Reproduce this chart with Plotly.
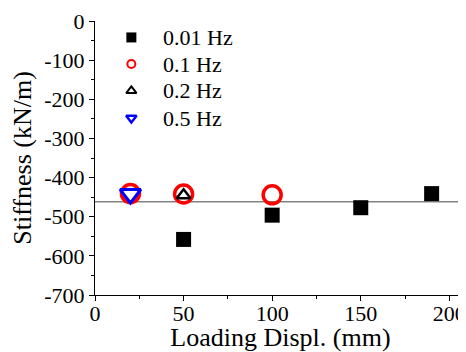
import plotly.graph_objects as go

# data
x_001 = [50, 100, 150, 190]
y_001 = [-558, -496, -477, -441]
x_01 = [20, 50, 100]
y_01 = [-441, -442, -444]
x_02 = [50]
y_02 = [-445]
x_05 = [20]
y_05 = [-442]
ref_level = -462

x_ticks = [0, 50, 100, 150, 200]
y_ticks = [0, -100, -200, -300, -400, -500, -600, -700]
y_ticktext = ["0", "-100", "-200", "-300", "-400", "-500", "-600", "-700"]
legend_labels = ["0.01 Hz", "0.1 Hz", "0.2 Hz", "0.5 Hz"]

FONT = "Liberation Serif"

fig = go.Figure()
fig.add_trace(go.Scatter(x=[0, 210], y=[ref_level, ref_level], mode="lines",
                         line=dict(color="#444444", width=1), showlegend=False, hoverinfo="skip"))
fig.add_trace(go.Scatter(x=x_001, y=y_001, mode="markers", showlegend=False,
                         marker=dict(symbol="square", size=15, color="black")))
fig.add_trace(go.Scatter(x=x_01, y=y_01, mode="markers", showlegend=False,
                         marker=dict(symbol="circle-open", size=18, color="red", line=dict(width=3.5, color="red"))))
fig.add_trace(go.Scatter(x=x_02, y=y_02, mode="markers", showlegend=False,
                         marker=dict(symbol="triangle-up-open", size=12, color="black", line=dict(width=2.5, color="black"))))
fig.add_trace(go.Scatter(x=x_05, y=y_05, mode="markers", showlegend=False,
                         marker=dict(symbol="triangle-down-open", size=18, color="blue", line=dict(width=3, color="blue"))))

# manual legend (fractions of the plot area)
leg_styles = [("square", "black", 10, 0), ("circle-open", "red", 8, 2),
              ("triangle-up-open", "black", 9, 2), ("triangle-down-open", "blue", 9, 2.5)]
leg_rows = [0.940, 0.843, 0.745, 0.646]
for (sym, col, sz, lw), yy, lab in zip(leg_styles, leg_rows, legend_labels):
    fig.add_trace(go.Scatter(x=[0.098], y=[yy], xaxis="x2", yaxis="y2", mode="markers", showlegend=False,
                             hoverinfo="skip",
                             marker=dict(symbol=sym, size=sz, color=col, line=dict(width=lw, color=col))))
    fig.add_annotation(x=0.177, y=yy, xref="x2", yref="y2", text=lab, showarrow=False,
                       xanchor="left", yanchor="middle", font=dict(family=FONT, size=22, color="black"))

fig.update_layout(
    width=458, height=344,
    margin=dict(l=87, r=0, t=13, b=57),
    plot_bgcolor="white", paper_bgcolor="white",
    font=dict(family=FONT, size=22, color="black"),
    showlegend=False,
    xaxis=dict(range=[0, 209.4], tickvals=x_ticks, showline=True, linecolor="black",
               linewidth=1, ticks="outside", ticklen=5, tickcolor="black", showgrid=False, zeroline=False,
               automargin=False, ticklabelstandoff=-6,
               minor=dict(tickvals=[25, 75, 125, 175], ticks="outside", ticklen=3, tickcolor="black"),
               title=dict(text="Loading Displ. (mm)", standoff=2)),
    yaxis=dict(range=[-700, 0], tickvals=y_ticks, ticktext=y_ticktext, showline=True,
               linecolor="black", linewidth=1, ticks="outside", ticklen=5, tickcolor="black",
               showgrid=False, zeroline=False, automargin=True,
               minor=dict(tickvals=[-50, -150, -250, -350, -450, -550, -650], ticks="outside", ticklen=3, tickcolor="black"),
               title=dict(text="Stiffness (kN/m)", standoff=9)),
    xaxis2=dict(range=[0, 1], overlaying="x", visible=False, fixedrange=True),
    yaxis2=dict(range=[0, 1], overlaying="y", visible=False, fixedrange=True),
)
fig.write_html("out.html")
